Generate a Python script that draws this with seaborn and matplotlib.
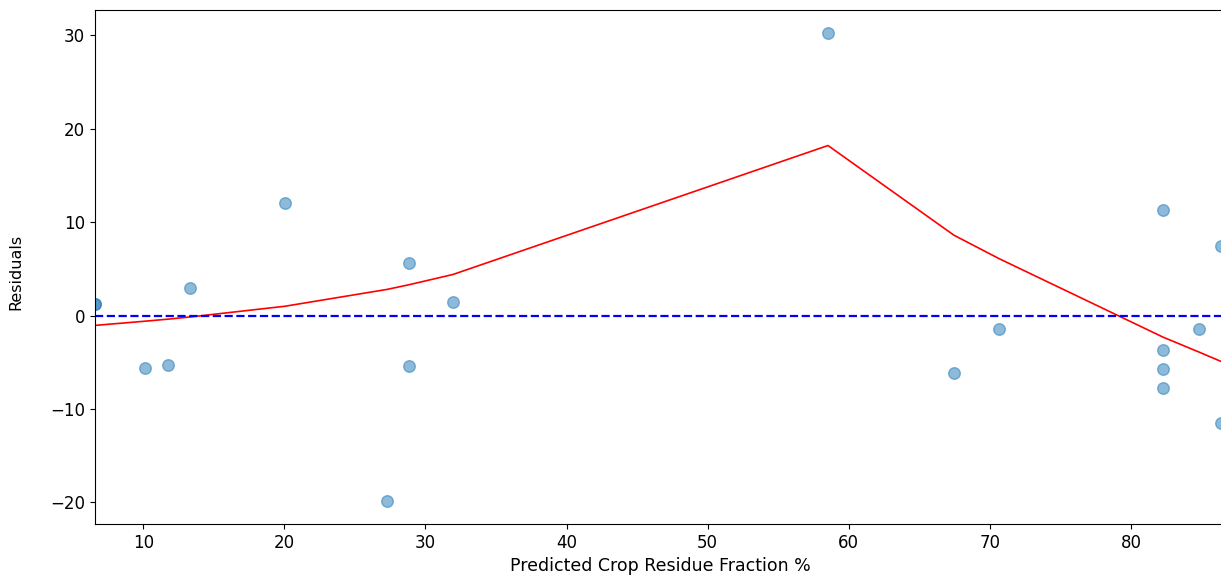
import matplotlib
matplotlib.use("Agg")
import matplotlib.pyplot as plt
import seaborn as sns
import pandas as pd

# Predicted values and residuals of the crop residue model
predicted = [6.58, 6.58, 10.12, 11.75, 13.31, 20.04, 27.27, 28.83, 28.83, 31.95,
             58.53, 67.46, 70.65, 82.27, 82.27, 82.27, 82.27, 84.82, 86.38, 86.38]
residuals = [1.2, 1.2, -5.6, -5.3, 3.0, 12.0, -19.8, 5.6, -5.4, 1.5,
             30.2, -6.1, -1.4, 11.3, -3.7, -5.7, -7.7, -1.4, 7.5, -11.5]

# Lowess trend of the residuals, evaluated at each distinct predicted value
trend_x = [6.58, 10.12, 11.75, 13.31, 20.04, 27.27, 28.83, 31.95,
           58.53, 67.46, 70.65, 82.27, 84.82, 86.38]
trend_y = [-1.05, -0.6, -0.38, -0.15, 1.0, 2.8, 3.3, 4.4,
           18.2, 8.6, 6.1, -2.3, -3.9, -4.9]

x_ticks = [10, 20, 30, 40, 50, 60, 70, 80]
y_ticks = [-20, -10, 0, 10, 20, 30]

points = pd.DataFrame({"pred": predicted, "resid": residuals})
trend = pd.DataFrame({"pred": trend_x, "resid": trend_y})

fig = plt.figure(figsize=(12.21, 5.76), dpi=100)
ax = fig.add_axes([0.0778, 0.0903, 0.9255, 0.8923])

sns.scatterplot(data=points, x="pred", y="resid", ax=ax, color="C0",
                alpha=0.5, s=70, edgecolor="C0", linewidth=1.0)
sns.lineplot(data=trend, x="pred", y="resid", ax=ax, color="red",
             linewidth=1.2, estimator=None, sort=False)
ax.axhline(0, color="blue", linestyle="--", linewidth=1.6)

ax.set_xlim(6.58, 86.67)
ax.set_ylim(-22.3, 32.7)
ax.set_xticks(x_ticks)
ax.set_yticks(y_ticks)
ax.tick_params(labelsize=12)
ax.set_xlabel("Predicted Crop Residue Fraction %", fontsize=12.5)
ax.set_ylabel("Residuals", fontsize=11.5, family=["Liberation Sans Narrow", "DejaVu Sans"])
ax.yaxis.set_label_coords(-0.063, 0.49)

fig.savefig("out.png", dpi=100)
